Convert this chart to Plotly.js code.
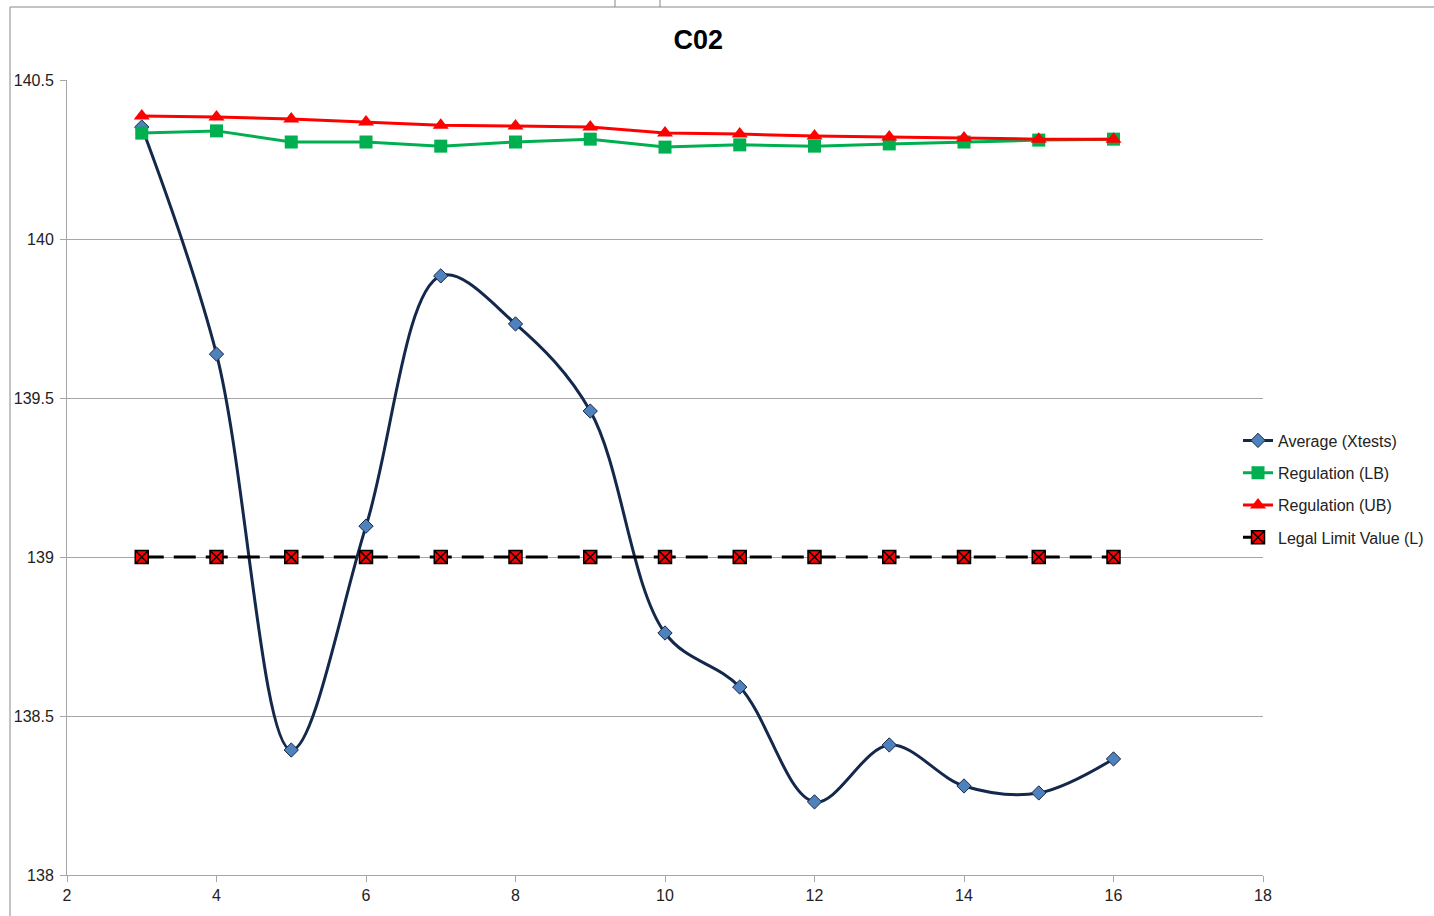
<!DOCTYPE html>
<html>
<head>
<meta charset="utf-8">
<script src="https://cdn.plot.ly/plotly-3.0.1.min.js"></script>
<style>html,body{margin:0;padding:0;background:#fff;}#chart{width:1434px;height:916px;}</style>
</head>
<body>
<div id="chart"></div>
<script>
const xValues = [3, 4, 5, 6, 7, 8, 9, 10, 11, 12, 13, 14, 15, 16];
const averageXtests = [140.352, 139.638, 138.393, 139.097, 139.884, 139.733, 139.459, 138.761, 138.591, 138.230, 138.409, 138.280, 138.258, 138.365];
const regulationLB = [140.333, 140.340, 140.305, 140.305, 140.292, 140.305, 140.314, 140.289, 140.296, 140.292, 140.299, 140.305, 140.311, 140.314];
const regulationUB = [140.387, 140.384, 140.377, 140.368, 140.358, 140.355, 140.352, 140.333, 140.330, 140.324, 140.321, 140.318, 140.314, 140.314];
const legalLimit = [139, 139, 139, 139, 139, 139, 139, 139, 139, 139, 139, 139, 139, 139];
const seriesNames = ['Average (Xtests)', 'Regulation (LB)', 'Regulation (UB)', 'Legal Limit Value (L)'];
const xTicks = [2, 4, 6, 8, 10, 12, 14, 16, 18];
const yTicks = [138, 138.5, 139, 139.5, 140, 140.5];

const font = 'Liberation Sans Narrow, Liberation Sans, Arial, sans-serif';

// page pixel -> paper fraction helpers (margin l=67, r=0, t=80, b=41)
const W = 1434, H = 916, ML = 67, MR = 0, MT = 80, MB = 41;
const PW = W - ML - MR, PH = H - MT - MB;
const px = v => (v - ML) / PW;
const py = v => (H - MB - v) / PH;

const traces = [
  {
    x: xValues, y: averageXtests, name: seriesNames[0], mode: 'lines+markers', legendgroup: 'a',
    line: {color: '#13284a', width: 3, shape: 'spline', smoothing: 1},
    marker: {symbol: 'diamond', size: 11, color: '#4f81bd', line: {color: '#13284a', width: 1}}
  },
  {
    x: xValues, y: regulationLB, name: seriesNames[1], mode: 'lines+markers', legendgroup: 'b',
    line: {color: '#00b050', width: 3},
    marker: {symbol: 'square', size: 13, color: '#00b050'}
  },
  {
    x: xValues, y: regulationUB, name: seriesNames[2], mode: 'lines+markers', legendgroup: 'c',
    line: {color: '#ff0000', width: 3},
    marker: {symbol: 'triangle-up', size: 14, color: '#ff0000'}
  },
  {
    x: xValues, y: legalLimit, name: seriesNames[3], mode: 'lines+markers', legendgroup: 'd',
    line: {color: '#000000', width: 3, dash: '22px,10px'},
    marker: {symbol: 'square-x', size: 13, color: '#ff0000', line: {color: '#000000', width: 1.5}}
  }
];

const layout = {
  width: W, height: H,
  paper_bgcolor: '#ffffff', plot_bgcolor: '#ffffff',
  margin: {l: ML, r: MR, t: MT, b: MB},
  title: {text: '<b>C02</b>', x: 0.487, xanchor: 'center', y: 0.957, yanchor: 'middle',
          font: {family: 'Liberation Sans Narrow, Liberation Sans, sans-serif', size: 27, color: '#000'}},
  showlegend: true,
  legend: {x: px(1238), xanchor: 'left', y: py(489), yanchor: 'middle',
           font: {family: font, size: 16, color: '#222'}, bgcolor: 'rgba(0,0,0,0)',
           itemwidth: 30, tracegroupgap: 8.5},
  xaxis: {
    domain: [0, px(1263)],
    range: [2, 18], tickvals: xTicks, ticktext: xTicks.map(String),
    showgrid: false, zeroline: false, showline: true, linecolor: '#a6a6a6', linewidth: 1,
    ticks: 'outside', ticklen: 6, tickcolor: '#a6a6a6',
    tickfont: {family: font, size: 16, color: '#222'}
  },
  yaxis: {
    range: [138, 140.5], tickvals: yTicks, ticktext: yTicks.map(String),
    showgrid: true, gridcolor: '#a6a6a6', gridwidth: 1, zeroline: false,
    showline: true, linecolor: '#a6a6a6', linewidth: 1,
    ticks: 'outside', ticklen: 6, tickcolor: '#a6a6a6', ticklabelstandoff: 3,
    tickfont: {family: font, size: 16, color: '#222'}
  },
  shapes: [
    {type: 'line', xref: 'paper', yref: 'paper', x0: px(10), x1: px(10), y0: py(916), y1: py(7), line: {color: '#888', width: 1}},
    {type: 'line', xref: 'paper', yref: 'paper', x0: px(10), x1: px(1434), y0: py(7), y1: py(7), line: {color: '#888', width: 1}},
    {type: 'line', xref: 'paper', yref: 'paper', x0: px(615), x1: px(615), y0: py(7), y1: py(0), line: {color: '#888', width: 1}},
    {type: 'line', xref: 'paper', yref: 'paper', x0: px(660), x1: px(660), y0: py(7), y1: py(0), line: {color: '#888', width: 1}}
  ]
};

Plotly.newPlot('chart', traces, layout, {displayModeBar: false});
</script>
</body>
</html>
